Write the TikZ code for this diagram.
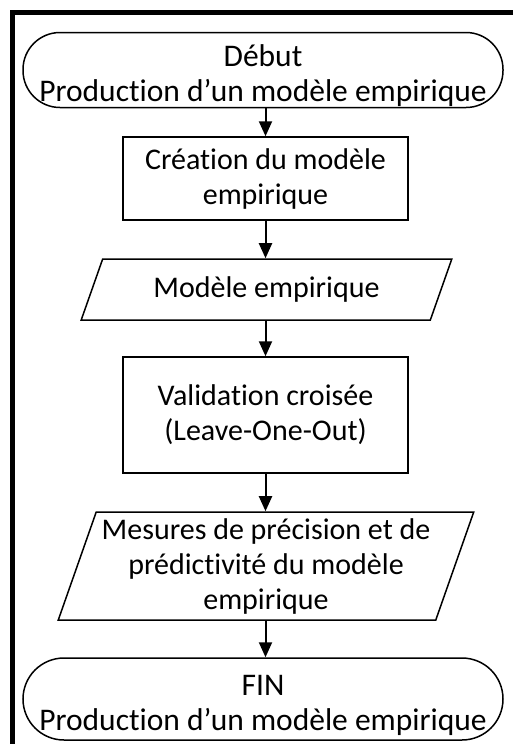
\documentclass[tikz,border=0pt]{standalone}
\usepackage{fontspec}
\setmainfont{Carlito}[Ligatures={NoCommon}]
\usetikzlibrary{arrows.meta,shapes.geometric}
\newcommand{\topgapx}{\rule{0pt}{33pt}}
\begin{document}
\begin{tikzpicture}[x=1pt,y=-1pt,
  txt/.style={align=center,font=\fontsize{30}{35}\selectfont,inner sep=0pt},
  term/.style={txt,font=\fontsize{31.5}{35}\selectfont,draw,line width=1.5pt,rectangle,rounded corners=#1,minimum width=480pt},
  proc/.style={txt,draw,line width=1.5pt,rectangle,minimum width=285pt},
  datab/.style={txt,draw,line width=1.5pt,trapezium,trapezium stretches=true},
  flow/.style={line width=2pt,-{Triangle[width=13pt,length=15pt]}}]
\useasboundingbox (0,0) rectangle (513,744);
\fill[white] (0,0) rectangle (513,744);
\draw[line width=5pt] (12.5,750) -- (12.5,12.5) -- (520,12.5);
\node[term=37pt,minimum height=75pt] (t1) at (263,70) {\topgapx Début\\Production d’un modèle empirique};
\node[proc,minimum height=83pt] (r1) at (265.5,178.5) {Création du modèle\\empirique};
\node[datab,trapezium left angle=60,trapezium right angle=120,minimum width=371pt,minimum height=61pt] (p1) at (266.5,289.5) {Modèle empirique};
\node[proc,minimum height=116pt] (r2) at (265.5,415) {Validation croisée\\(Leave-One-Out)};
\node[datab,trapezium left angle=69,trapezium right angle=111,minimum width=418pt,minimum height=108pt] (p2) at (266,566) {Mesures de précision et de\\prédictivité du modèle\\empirique};
\node[term=41pt,minimum height=82pt] (t2) at (263,699) {\topgapx FIN\\Production d’un modèle empirique};
\draw[flow] (t1.south -| r1.north) -- (r1.north);
\draw[flow] (r1.south) -- (r1.south |- p1.north);
\draw[flow] (r1.south |- p1.south) -- (r2.north);
\draw[flow] (r2.south) -- (r2.south |- p2.north);
\draw[flow] (r2.south |- p2.south) -- (r2.south |- t2.north);
\end{tikzpicture}
\end{document}
